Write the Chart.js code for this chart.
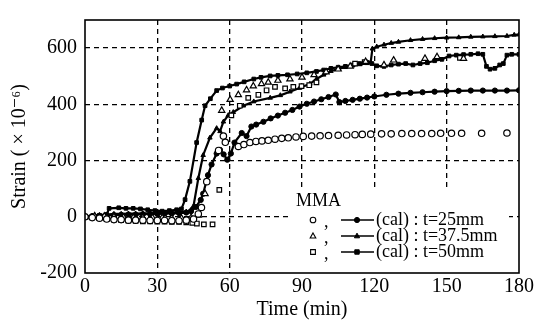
<!DOCTYPE html>
<html>
<head>
<meta charset="utf-8">
<title>Strain vs Time (MMA)</title>
<script src="https://cdn.jsdelivr.net/npm/chart.js@4"></script>
<style>
  html, body { margin: 0; padding: 0; background: #fff; }
</style>
</head>
<body>
<canvas id="chart" width="545" height="330"></canvas>
<script>
// axis ticks
const xTicks = [0, 30, 60, 90, 120, 150, 180];
const yTicks = [-200, 0, 200, 400, 600];

// measured (open markers)
const expTime25 = [0,3,6,9,12,15,18,21,24,27,30,33,36,39,42,45,47,48.3,50.5,55.4,57.4,58.2,
  63.6,65.9,68.4,70.9,73.4,76,78.8,81.6,84.3,87.5,90.5,94,97.5,101,105,108.5,112,115,118.5,
  123,127,131.4,135.5,139.6,143.8,147.5,152,156.2,164.5,175];
const expStrain25 = [0,-3,-5,-8,-10,-10,-12,-12,-12,-13,-13,-13,-14,-14,-12,-8,10,33,125,236,287,265,
  250,257,264,268,270,272,276,279,281,284,286,287,288,289,290,291,292,293,294,
  295,295,296,296,296,296,297,297,297,297,298];

const expTime375 = [0,4,8,12,16,20,24,28,32,36,40,44,47,49.8,56.7,60.2,63.6,67,69.8,73.2,76,
  80,85,90,95,100,105,110,116.4,124,128,141,146,157];
const expStrain375 = [0,3,2,0,-2,-3,-3,-4,-4,-5,-5,-3,5,82,378,417,434,451,465,473,478,
  485,490,496,505,515,525,535,552,540,557,563,569,563];

const expTime50 = [0,3,6,9,12,15,18,21,24,27,30,33,36,39,42,44.5,46.4,49.3,52.9,
  55.7,60.7,64.2,67.7,71.9,75.3,78.8,83,86.4,89.8,93,96,112,116,155.5];
const expStrain50 = [0,-2,-5,-8,-10,-12,-14,-15,-16,-16,-17,-17,-18,-18,-20,-22,-24,-27,-27,
  96,361,395,423,434,450,462,457,462,465,468,478,545,550,565];

// calculated (lines with filled markers)
const calTime25 = [0,3,6,9,12,15,18,21,24,27,30,33,36,39,42,44,46,48,49,51,52.5,54.6,56,57.5,59,
  60.5,62,65,67,69,71,74,77,80,83,86,89,92,95,98,101,104,105.5,108,111,114,117,120,
  125,130,135,140,145,150,155,160,165,170,175,180];
const calStrain25 = [0,2,4,5,6,7,8,8,9,10,10,11,12,13,15,20,35,60,82,148,186,225,238,222,203,
  225,264,298,287,321,328,338,350,360,370,380,392,402,410,418,426,435,408,412,416,420,424,428,
  434,438,441,443,445,447,448,449,449,449,449,450];

const calTime375 = [0,3,6,9,12,15,18,21,24,27,30,33,36,39,42,44,45,47,49,51.8,54.6,56,57.4,59.4,61.5,
  65.7,70,76.8,81,85,89,93.3,96,99,102,105,108,111,114,117,118.5,119.2,121,124,127,
  130,135,140,145,150,155,160,165,170,175,178,180];
const calStrain375 = [0,3,6,8,10,10,11,11,12,12,13,14,15,16,18,25,38,137,219,281,315,304,338,361,372,
  395,410,423,432,445,458,473,490,505,518,526,532,538,542,546,550,598,605,612,618,
  622,628,632,635,637,638,640,641,642,643,647,648];

const calTime50 = [0,3,6,9,10,14,17,20,23,26,29,32,35,38,40,41.5,43.5,46.3,48.4,49.8,
  52,54.6,57,60,62.9,66,70,73,76.8,80,84,88,92,96,99,102,105,108,111,114,
  117,119,121,124,127,130,133,136,139,142,145,148,151,154,157,160,163,165,166.5,168,
  170,172,173.5,175,177,180];
const calStrain50 = [0,3,5,8,30,32,30,30,28,25,22,20,22,25,28,61,126,264,344,395,
  420,449,458,465,472,480,490,496,501,503,505,508,512,517,522,528,532,535,540,545,
  549,545,537,535,540,543,545,540,545,548,555,560,572,575,577,578,580,578,535,525,
  528,540,545,575,578,578];

const legendTitle = 'MMA';
const legendLabels = ['(cal) : t=25mm', '(cal) : t=37.5mm', '(cal) : t=50mm'];
const legendShapes = ['circle', 'triangle', 'rect'];

const SERIF = '"Liberation Serif", "DejaVu Serif", serif';

function toPoints(ts, vs) {
  return ts.map((t, i) => ({ x: t, y: vs[i] }));
}

function measured(label, shape, ts, vs) {
  return {
    label: label,
    data: toPoints(ts, vs),
    showLine: false,
    pointStyle: shape,
    pointRadius: shape === 'triangle' ? 3.6 : 3.2,
    pointBorderWidth: 1.2,
    pointBorderColor: '#000',
    pointBackgroundColor: '#fff'
  };
}

function calculated(label, shape, ts, vs) {
  return {
    label: label,
    data: toPoints(ts, vs),
    showLine: true,
    borderColor: '#000',
    borderWidth: 2.2,
    tension: 0,
    pointStyle: shape,
    pointRadius: 2.6,
    pointBorderWidth: 1,
    pointBorderColor: '#000',
    pointBackgroundColor: '#000'
  };
}

function drawShape(ctx, shape, x, y, r, filled) {
  ctx.beginPath();
  if (shape === 'circle') {
    ctx.arc(x, y, r, 0, Math.PI * 2);
  } else if (shape === 'triangle') {
    ctx.moveTo(x, y - r * 1.1);
    ctx.lineTo(x + r, y + r * 0.7);
    ctx.lineTo(x - r, y + r * 0.7);
    ctx.closePath();
  } else {
    ctx.rect(x - r * 0.85, y - r * 0.85, r * 1.7, r * 1.7);
  }
  ctx.fillStyle = filled ? '#000' : '#fff';
  ctx.fill();
  ctx.stroke();
}

// white legend area over the grid, then box round the plot area
const framePlugin = {
  id: 'frame',
  beforeDatasetsDraw(chart) {
    const { ctx, chartArea: a } = chart;
    ctx.save();
    ctx.fillStyle = '#fff';
    ctx.fillRect(292, 187, a.right - 292 - 10, a.bottom - 187);
    ctx.restore();
  },
  afterDatasetsDraw(chart) {
    const { ctx, chartArea: a } = chart;
    ctx.save();
    ctx.strokeStyle = '#000';
    ctx.lineWidth = 1.6;
    ctx.strokeRect(a.left, a.top, a.right - a.left, a.bottom - a.top);
    ctx.restore();
  }
};

// legend in the lower right of the plot
const legendPlugin = {
  id: 'mmaLegend',
  afterDraw(chart) {
    const ctx = chart.ctx;
    ctx.save();
    ctx.fillStyle = '#000';
    ctx.strokeStyle = '#000';
    ctx.textAlign = 'left';
    ctx.textBaseline = 'middle';
    ctx.font = '18px ' + SERIF;
    ctx.fillText(legendTitle, 296, 201);
    legendLabels.forEach((txt, i) => {
      const y = 220 + i * 16;
      ctx.lineWidth = 1.1;
      drawShape(ctx, legendShapes[i], 313, y, 2.8, false);
      ctx.fillStyle = '#000';
      ctx.fillText(',', 324, y + 2);
      ctx.lineWidth = 1.6;
      ctx.beginPath();
      ctx.moveTo(341, y);
      ctx.lineTo(374, y);
      ctx.stroke();
      ctx.lineWidth = 1;
      drawShape(ctx, legendShapes[i], 357, y, 2.6, true);
      ctx.fillStyle = '#000';
      ctx.fillText(txt, 376, y);
    });
    ctx.restore();
  }
};

const gridColor = (ends) => (c) => (c.tick && ends.includes(c.tick.value)) ? 'rgba(0,0,0,0)' : '#000';

new Chart(document.getElementById('chart').getContext('2d'), {
  type: 'scatter',
  data: {
    datasets: [
      measured('t=25mm', 'circle', expTime25, expStrain25),
      measured('t=37.5mm', 'triangle', expTime375, expStrain375),
      measured('t=50mm', 'rect', expTime50, expStrain50),
      calculated('(cal) t=25mm', 'circle', calTime25, calStrain25),
      calculated('(cal) t=37.5mm', 'triangle', calTime375, calStrain375),
      calculated('(cal) t=50mm', 'rect', calTime50, calStrain50)
    ]
  },
  options: {
    responsive: false,
    animation: false,
    devicePixelRatio: 1,
    layout: { padding: { top: 4, right: 26, left: 0, bottom: 0 } },
    plugins: {
      legend: { display: false },
      tooltip: { enabled: false }
    },
    scales: {
      x: {
        type: 'linear',
        min: 0,
        max: 180,
        afterBuildTicks: (s) => { s.ticks = xTicks.map(v => ({ value: v })); },
        afterFit: (s) => { s.height = 57; },
        ticks: { color: '#000', font: { family: SERIF, size: 20 }, padding: 2, maxRotation: 0 },
        grid: { color: gridColor([0, 180]), lineWidth: 1.3, drawTicks: false },
        border: { display: false, dash: [5, 4] },
        title: { display: true, text: 'Time (min)', color: '#000', font: { family: SERIF, size: 20 }, padding: { top: 0, bottom: 8 } }
      },
      y: {
        type: 'linear',
        min: -200,
        max: 700,
        afterBuildTicks: (s) => { s.ticks = yTicks.map(v => ({ value: v })); },
        afterFit: (s) => { s.width = 85; },
        ticks: { color: '#000', font: { family: SERIF, size: 20 }, padding: 8 },
        grid: { color: gridColor([-200, 700]), lineWidth: 1.3, drawTicks: false },
        border: { display: false, dash: [5, 4] },
        title: { display: true, text: 'Strain ( \u00d7 10\u207b\u2076)', color: '#000', font: { family: SERIF, size: 20 }, padding: { top: 8, bottom: 0 } }
      }
    }
  },
  plugins: [framePlugin, legendPlugin]
});
</script>
</body>
</html>
